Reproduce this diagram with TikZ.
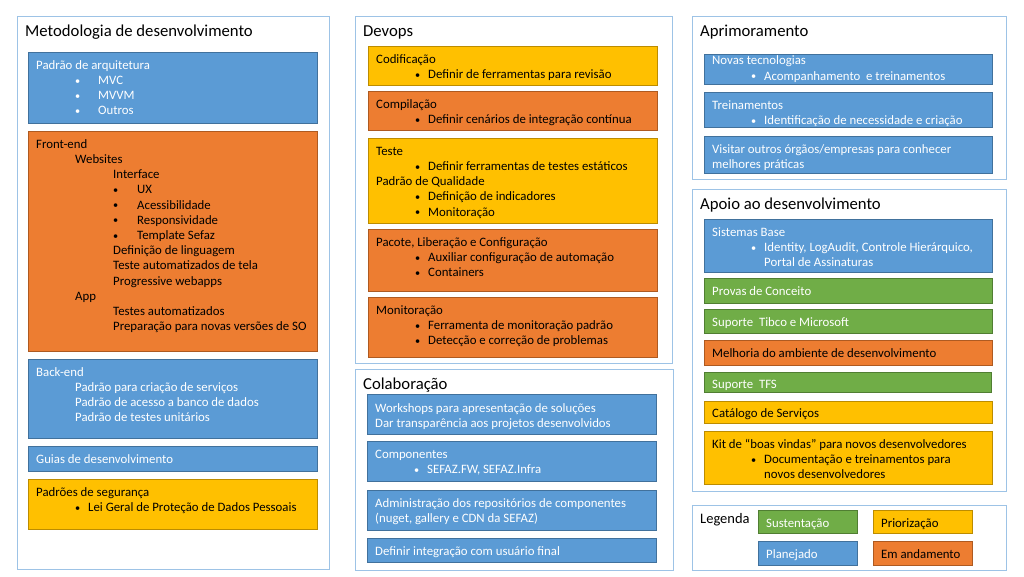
\documentclass[tikz,border=0pt]{standalone}
\usepackage{fontspec}
\setmainfont{Carlito}
\usetikzlibrary{positioning}

\definecolor{azul}{HTML}{5B9BD5}    \definecolor{azulline}{HTML}{41719C}    \colorlet{azultx}{white}
\definecolor{laranja}{HTML}{ED7D31} \definecolor{laranjaline}{HTML}{AE5A21} \colorlet{laranjatx}{black}
\definecolor{amarelo}{HTML}{FFC000} \definecolor{amareloline}{HTML}{BC8C00} \colorlet{amarelotx}{black}
\definecolor{verde}{HTML}{70AD47}   \definecolor{verdeline}{HTML}{507E32}   \colorlet{verdetx}{white}
\definecolor{moldura}{HTML}{9DC3E6}

\newcommand{\corpo}{\fontsize{12.8}{15.2}\selectfont}
\newcommand{\titulo}{\fontsize{16.7}{19}\selectfont}
% bullet lines
\newcommand{\pt}{\raisebox{0.5pt}{\scalebox{0.8}{•}}}
\newcommand{\bl}{\hspace*{39pt}\makebox[13pt][l]{\pt}}
\newcommand{\blw}{\hspace*{39pt}\makebox[23pt][l]{\pt}}
\newcommand{\blx}{\hspace*{77pt}\makebox[24pt][l]{\pt}}
\newcommand{\ia}{\hspace*{39pt}}
\newcommand{\ib}{\hspace*{77pt}}
\newcommand{\ic}{\hspace*{52pt}}

\tikzset{
  panel/.style={draw=moldura, line width=1.2pt, fill=white, anchor=north west, inner sep=0pt},
  blk/.style={line width=0.8pt, anchor=north west, inner sep=0pt},
  txt/.style={anchor=north west, inner sep=0pt, align=left, font=\corpo},
  ttl/.style={anchor=base west, inner sep=0pt, font=\titulo},
}

% [text drop], name, colour, x1, y1, x2, y2, text
\newcommand{\caixa}[8][6.5]{%
  \node[blk, fill=#3, draw=#3line, minimum width=#6pt-#4pt, minimum height=#7pt-#5pt] (#2) at (#4,#5) {};
  \node[txt, text=#3tx] (#2-t) at ([shift={(8,#1)}]#2.north west) {\strut #8};
}
% name, x1, y1, x2, y2, title
\newcommand{\painel}[6]{%
  \node[panel, minimum width=#4pt-#2pt, minimum height=#5pt-#3pt] (#1) at (#2,#3) {};
  \node[ttl] (#1-t) at ([shift={(8,20)}]#1.north west) {#6};
}

\begin{document}
\begin{tikzpicture}[x=1pt,y=-1pt]
\useasboundingbox[fill=white] (0,0) rectangle (1024,576);

% Metodologia de desenvolvimento
\painel{metod}{17}{16}{329}{569}{Metodologia de desenvolvimento}
\caixa{arq}{azul}{28}{52}{317}{123}{Padrão de arquitetura\\ \blw MVC\\ \blw MVVM\\ \blw Outros}
\caixa{front}{laranja}{28}{131}{317}{351}{Front-end\\ \ia Websites\\ \ib Interface\\
  \blx UX\\ \blx Acessibilidade\\ \blx Responsividade\\ \blx Template Sefaz\\
  \ib Definição de linguagem\\ \ib Teste automatizados de tela\\ \ib Progressive webapps\\
  \ia App\\ \ib Testes automatizados\\ \ib Preparação para novas versões de SO}
\caixa{back}{azul}{28}{359}{317}{438}{Back-end\\ \ia Padrão para criação de serviços\\
  \ia Padrão de acesso a banco de dados\\ \ia Padrão de testes unitários}
\caixa{guias}{azul}{28}{446}{317}{471}{Guias de desenvolvimento}
\caixa{segur}{amarelo}{28}{479}{317}{529}{Padrões de segurança\\ \bl Lei Geral de Proteção de Dados Pessoais}

% Devops
\painel{devops}{355}{16}{672}{363}{Devops}
\caixa{codif}{amarelo}{368}{46}{657}{85}{Codificação\\ \bl Definir de ferramentas para revisão}
\caixa{compil}{laranja}{368}{91}{657}{130}{Compilação\\ \bl Definir cenários de integração contínua}
\caixa{teste}{amarelo}{368}{138}{657}{223}{Teste\\ \bl Definir ferramentas de testes estáticos\\
  Padrão de Qualidade\\ \bl Definição de indicadores\\ \bl Monitoração}
\caixa{pacote}{laranja}{368}{229}{657}{291}{Pacote, Liberação e Configuração\\
  \bl Auxiliar configuração de automação\\ \bl Containers}
\caixa{monit}{laranja}{368}{297}{657}{357}{Monitoração\\ \bl Ferramenta de monitoração padrão\\
  \bl Detecção e correção de problemas}

% Colaboracao
\painel{colab}{355}{369}{673}{570}{Colaboração}
\caixa[7.5]{works}{azul}{367}{394}{656}{434}{Workshops para apresentação de soluções\\
  Dar transparência aos projetos desenvolvidos}
\caixa{compon}{azul}{367}{441}{656}{481}{Componentes\\ \bl SEFAZ.FW, SEFAZ.Infra}
\caixa{repos}{azul}{367}{490}{656}{530}{Administração dos repositórios de componentes\\
  (nuget, gallery e CDN da SEFAZ)}
\caixa{integ}{azul}{367}{538}{656}{562}{Definir integração com usuário final}

% Aprimoramento
\painel{aprim}{692}{16}{1006}{179}{Aprimoramento}
\caixa[0]{novas}{azul}{704}{54}{992}{84}{Novas tecnologias\\ \bl Acompanhamento\ \ e treinamentos}
\caixa{trein}{azul}{704}{92}{992}{127}{Treinamentos\\ \bl Identificação de necessidade e criação}
\caixa{visit}{azul}{704}{136}{992}{173}{Visitar outros órgãos/empresas para conhecer\\ melhores práticas}

% Apoio ao desenvolvimento
\painel{apoio}{692}{189}{1006}{491}{Apoio ao desenvolvimento}
\caixa{sist}{azul}{704}{219}{992}{272}{Sistemas Base\\ \bl Identity, LogAudit, Controle Hierárquico,\\
  \ic Portal de Assinaturas}
\caixa{provas}{verde}{704}{278}{992}{303}{Provas de Conceito}
\caixa{tibco}{verde}{704}{309}{992}{333}{Suporte\ \ Tibco e Microsoft}
\caixa{melh}{laranja}{704}{340}{992}{365}{Melhoria do ambiente de desenvolvimento}
\caixa[5.5]{tfs}{verde}{704}{372}{991}{392}{Suporte\ \ TFS}
\caixa[5.5]{catal}{amarelo}{704}{401}{992}{423}{Catálogo de Serviços}
\caixa{kit}{amarelo}{704}{431}{992}{484}{Kit de “boas vindas” para novos desenvolvedores\\
  \bl Documentação e treinamentos para\\ \ic novos desenvolvedores}

% Legenda
\node[panel, minimum width=314pt, minimum height=65pt] (leg) at (692,505) {};
\node[anchor=base west, inner sep=0pt, font=\fontsize{14.5}{17}\selectfont] (leg-t) at (700,523) {Legenda};
\caixa{sust}{verde}{758}{510}{857}{533}{Sustentação}
\caixa{prior}{amarelo}{873}{510}{972}{533}{Priorização}
\caixa{plan}{azul}{758}{541}{857}{565}{Planejado}
\caixa{andam}{laranja}{873}{541}{972}{565}{Em andamento}
\end{tikzpicture}
\end{document}
